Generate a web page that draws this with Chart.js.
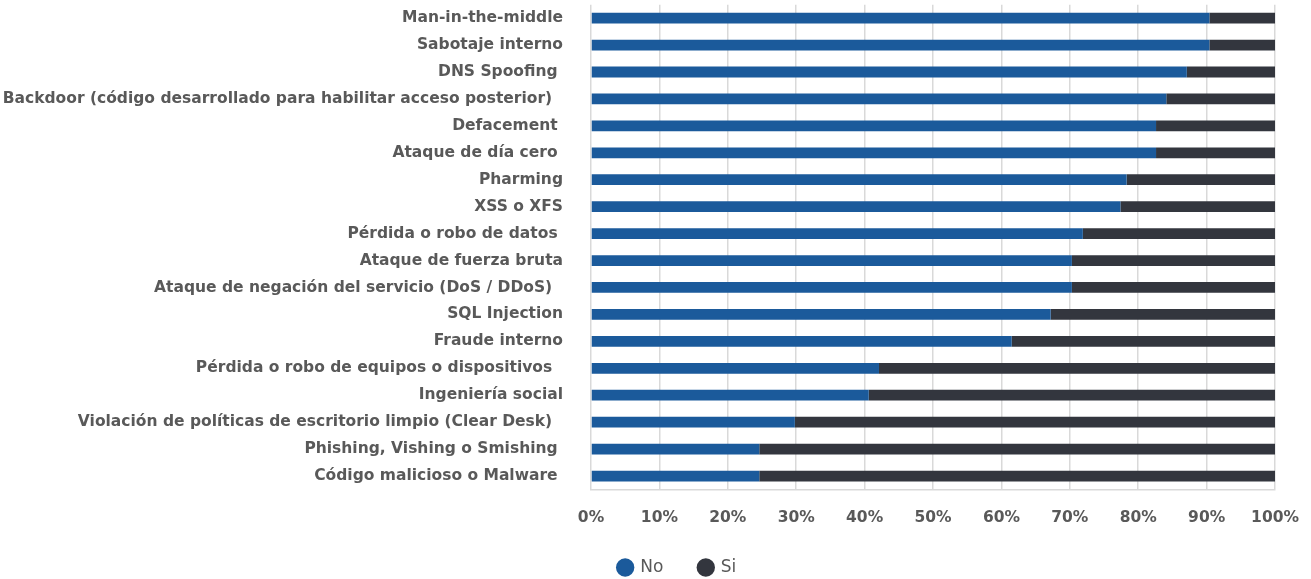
<!DOCTYPE html>
<html>
<head>
<meta charset="utf-8">
<script src="https://cdn.jsdelivr.net/npm/chart.js@4/dist/chart.umd.min.js"></script>
<style>
  html, body { margin: 0; padding: 0; background: #fff; }
  #wrap { width: 1311px; height: 579px; }
</style>
</head>
<body>
<div id="wrap"><canvas id="attackChart"></canvas></div>
<script>
const categories = [
    "Man-in-the-middle",
    "Sabotaje interno",
    "DNS Spoofing ",
    "Backdoor (código desarrollado para habilitar acceso posterior)  ",
    "Defacement ",
    "Ataque de día cero ",
    "Pharming",
    "XSS o XFS",
    "Pérdida o robo de datos ",
    "Ataque de fuerza bruta",
    "Ataque de negación del servicio (DoS / DDoS)  ",
    "SQL Injection",
    "Fraude interno",
    "Pérdida o robo de equipos o dispositivos  ",
    "Ingeniería social",
    "Violación de políticas de escritorio limpio (Clear Desk)  ",
    "Phishing, Vishing o Smishing ",
    "Código malicioso o Malware "
];

const noValues = [90.4, 90.4, 87.1, 84.1, 82.6, 82.6, 78.3, 77.4, 71.9, 70.3, 70.3, 67.2, 61.5, 42.1, 40.6, 29.8, 24.6, 24.6];
const siValues = [9.6, 9.6, 12.9, 15.9, 17.4, 17.4, 21.7, 22.6, 28.1, 29.7, 29.7, 32.8, 38.5, 57.9, 59.4, 70.2, 75.4, 75.4];

const textColor = "#595959";
const labelFont = "DejaVu Sans";

const ctx = document.getElementById("attackChart").getContext("2d");
new Chart(ctx, {
    type: "bar",
    data: {
        labels: categories,
        datasets: [
            { label: "No", data: noValues, backgroundColor: "#1b5a9b", barPercentage: 0.8, categoryPercentage: 0.5 },
            { label: "Si", data: siValues, backgroundColor: "#33363e", barPercentage: 0.8, categoryPercentage: 0.5 }
        ]
    },
    options: {
        indexAxis: "y",
        responsive: true,
        maintainAspectRatio: false,
        animation: false,
        // negative right padding only widens the legend box so it centres like the original
        layout: { padding: { top: 4, right: -44, bottom: 0, left: 0 } },
        scales: {
            x: {
                stacked: true,
                min: 0,
                max: 100,
                grid: { color: "#d9d9d9", lineWidth: 1.5, tickLength: 7, tickColor: "rgba(0,0,0,0)" },
                border: { color: "#d9d9d9", width: 1.5 },
                afterFit: scale => { scale.height = 33.5; },
                ticks: {
                    stepSize: 10,
                    padding: 12,
                    color: textColor,
                    font: { family: labelFont, size: 15.5, weight: "bold" },
                    callback: v => v + "%"
                }
            },
            y: {
                stacked: true,
                grid: { display: true, drawOnChartArea: false, drawTicks: true, tickLength: 28, tickColor: "rgba(0,0,0,0)" },
                border: { display: false },
                afterFit: scale => { scale.width = 591; },
                ticks: {
                    padding: 0,
                    color: textColor,
                    font: { family: labelFont, size: 15.5, weight: "bold", lineHeight: 0.6 }
                }
            }
        },
        plugins: {
            legend: {
                position: "bottom",
                maxHeight: 56,
                labels: {
                    usePointStyle: true,
                    pointStyle: "circle",
                    boxWidth: 13,
                    boxHeight: 13,
                    padding: 36,
                    color: textColor,
                    font: { family: labelFont, size: 17 }
                }
            },
            tooltip: { enabled: false }
        }
    }
});
</script>
</body>
</html>
